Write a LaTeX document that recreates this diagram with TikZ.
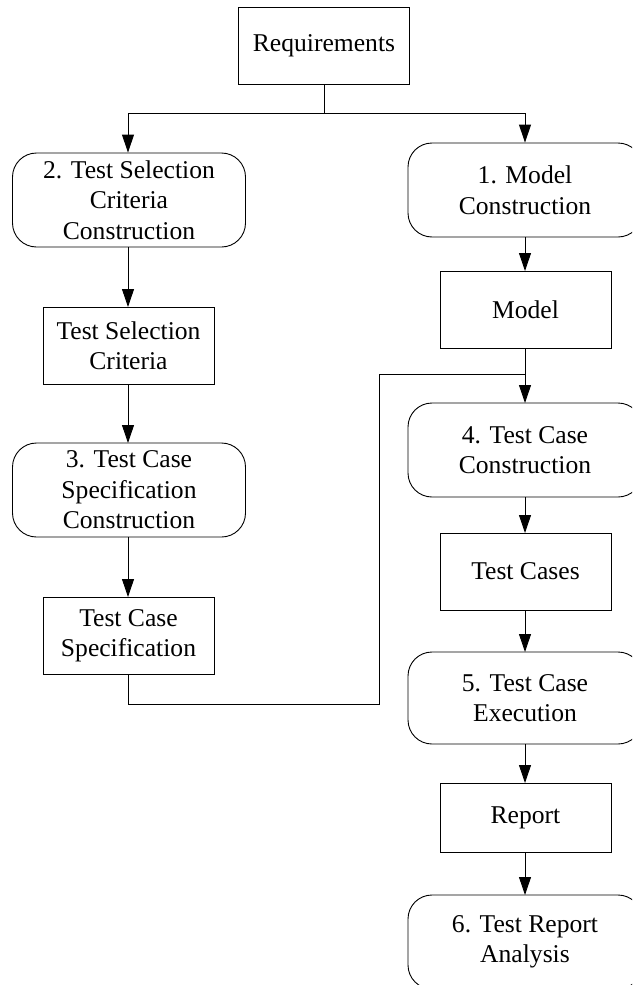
\documentclass[tikz,border=0pt]{standalone}
\usepackage{fontspec}
\setmainfont{Liberation Serif}
\usetikzlibrary{arrows.meta}

\begin{document}
\begin{tikzpicture}[x=1pt,y=-1pt,
  every node/.style={font=\fontsize{25.6}{30.5}\selectfont, align=center, inner sep=0pt},
  databox/.style={draw, line width=0.9pt, minimum width=171pt, minimum height=77pt},
  activity/.style={draw, line width=0.9pt, rounded corners=24pt, minimum width=233pt, minimum height=94pt},
  flow/.style={line width=0.9pt, -{Triangle[length=18pt,width=12pt]}},
  link/.style={line width=0.9pt}
]
\useasboundingbox (0,0) rectangle (632,985);
\clip (0,0) rectangle (632,985);

% top requirements box
\node[databox] (req) at (324,45.5) {Requirements};

% left column: test selection branch
\node[activity] (c2) at (129,200) {2. Test Selection\\Criteria\\Construction};
\node[databox] (tsc) at (128.5,345.5) {Test Selection\\Criteria};
\node[activity] (c3) at (129,490) {3. Test Case\\Specification\\Construction};
\node[databox] (tcs) at (128.5,635.5) {Test Case\\Specification};

% right column: model and test execution chain
\node[activity, minimum width=234pt] (c1) at (525,190) {1. Model\\Construction};
\node[databox] (model) at (525.5,309.5) {Model};
\node[activity, minimum width=234pt] (c4) at (525,450) {4. Test Case\\Construction};
\node[databox] (tc) at (525.5,571.5) {Test Cases};
\node[activity, minimum width=234pt, minimum height=92pt] (c5) at (525,698) {5. Test Case\\Execution};
\node[databox, minimum height=69pt] (rep) at (525.5,817.5) {Report};
\node[activity, minimum width=234pt] (c6) at (525,942) {6. Test Report\\Analysis};

% split below requirements
\coordinate (split) at (324,113);
\coordinate (splitL) at (128,113);
\coordinate (splitR) at (525,113);
\draw[link] (req.south) -- (split);
\draw[link] (splitL) -- (splitR);
\draw[flow] (splitL) -- (splitL |- c2.north);
\draw[flow] (splitR) -- (splitR |- c1.north);

% left column arrows
\draw[flow] (128,247) -- (128,307);
\draw[flow] (128,384) -- (128,443);
\draw[flow] (128,537) -- (128,597);

% specification feeds into test case construction
\coordinate (bend) at (379,704);
\coordinate (join) at (525,374);
\draw[link] (128,674) |- (bend) |- (join);

% right column arrows
\draw[flow] (525,237) -- (525,271);
\draw[flow] (525,348) -- (525,403);
\draw[flow] (525,497) -- (525,533);
\draw[flow] (525,610) -- (525,652);
\draw[flow] (525,744) -- (525,783);
\draw[flow] (525,852) -- (525,895);
\end{tikzpicture}
\end{document}
